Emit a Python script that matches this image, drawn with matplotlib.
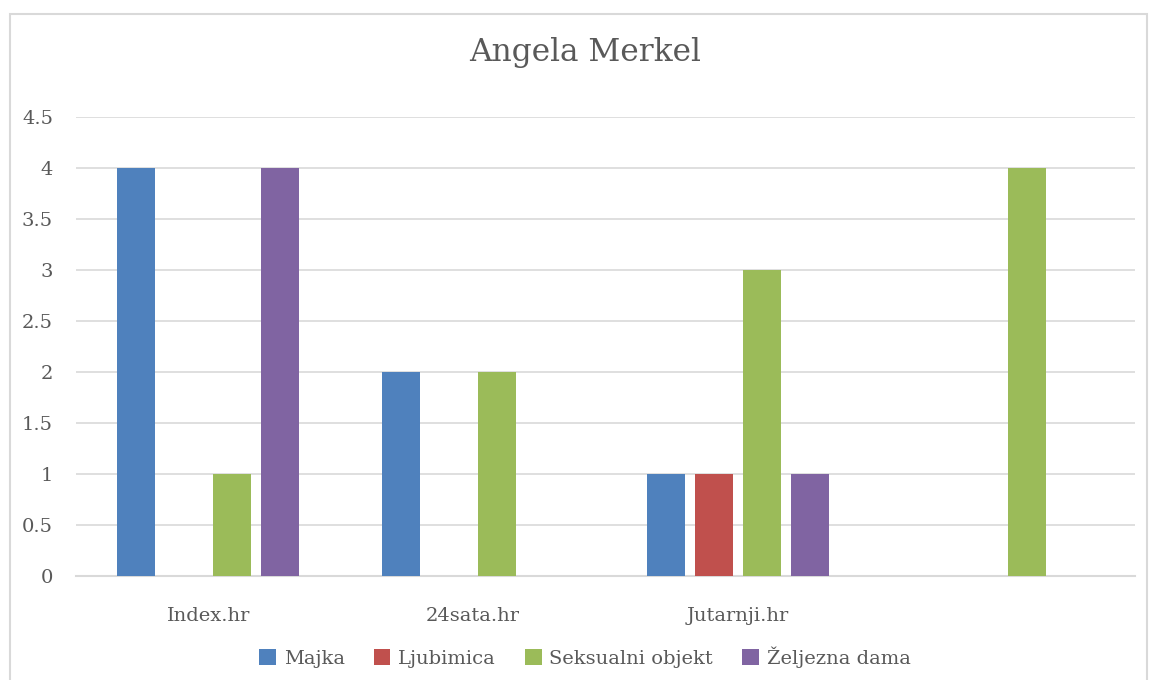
import matplotlib.pyplot as plt
from matplotlib.patches import Rectangle
import numpy as np

# chart data
portals = ["Index.hr", "24sata.hr", "Jutarnji.hr", ""]
series_names = ["Majka", "Ljubimica", "Seksualni objekt", "Željezna dama"]
majka = [4, 2, 1, 0]
ljubimica = [0, 0, 1, 0]
seksualni_objekt = [1, 2, 3, 4]
zeljezna_dama = [4, 0, 1, 0]
y_ticks = [0, 0.5, 1, 1.5, 2, 2.5, 3, 3.5, 4, 4.5]

colors = ["#4F81BD", "#C0504D", "#9BBB59", "#8064A2"]
text_color = "#595959"
grid_color = "#D9D9D9"

plt.rcParams['font.family'] = ['DejaVu Serif']

fig = plt.figure(figsize=(11.49, 6.80), dpi=100)
ax = fig.add_axes([76 / 1149, 1 - 576 / 680, 1059 / 1149, (576 - 117.3) / 680])

# outer chart frame
fig.patches.append(Rectangle((10 / 1149, -0.05), 1137 / 1149, 1.05 - 14 / 680,
                             transform=fig.transFigure, fill=False,
                             edgecolor=grid_color, linewidth=1.5))

x = np.arange(len(portals))
step = 48 / 264.75
width = 38 / 264.75
all_series = [majka, ljubimica, seksualni_objekt, zeljezna_dama]
for j, (name, vals) in enumerate(zip(series_names, all_series)):
    ax.bar(x + (j - 1.5) * step, vals, width, color=colors[j], label=name, zorder=3)

ax.set_xlim(-0.5, len(portals) - 0.5)
ax.set_ylim(0, 4.5)
ax.set_yticks(y_ticks)
ax.set_yticklabels([f"{t:g}" for t in y_ticks])
ax.set_xticks(x)
ax.set_xticklabels(portals)
ax.yaxis.grid(True, color=grid_color, linewidth=1.2, zorder=0)
ax.tick_params(axis='both', length=0, labelsize=14, labelcolor=text_color)
ax.tick_params(axis='y', pad=16.5)
ax.tick_params(axis='x', pad=22)
for side in ['top', 'right', 'left']:
    ax.spines[side].set_visible(False)
ax.spines['bottom'].set_color(grid_color)
ax.spines['bottom'].set_linewidth(1.5)

fig.text(585 / 1149, 1 - 52 / 680, "Angela Merkel", ha='center', va='center',
         fontsize=22.5, color=text_color)

fig.legend(loc='center', bbox_to_anchor=(585 / 1149, 1 - 657 / 680), ncol=4,
           frameon=False, fontsize=14, labelcolor=text_color,
           handlelength=0.85, handleheight=0.85, handletextpad=0.4, columnspacing=1.5)

fig.savefig("out.png", dpi=100)
